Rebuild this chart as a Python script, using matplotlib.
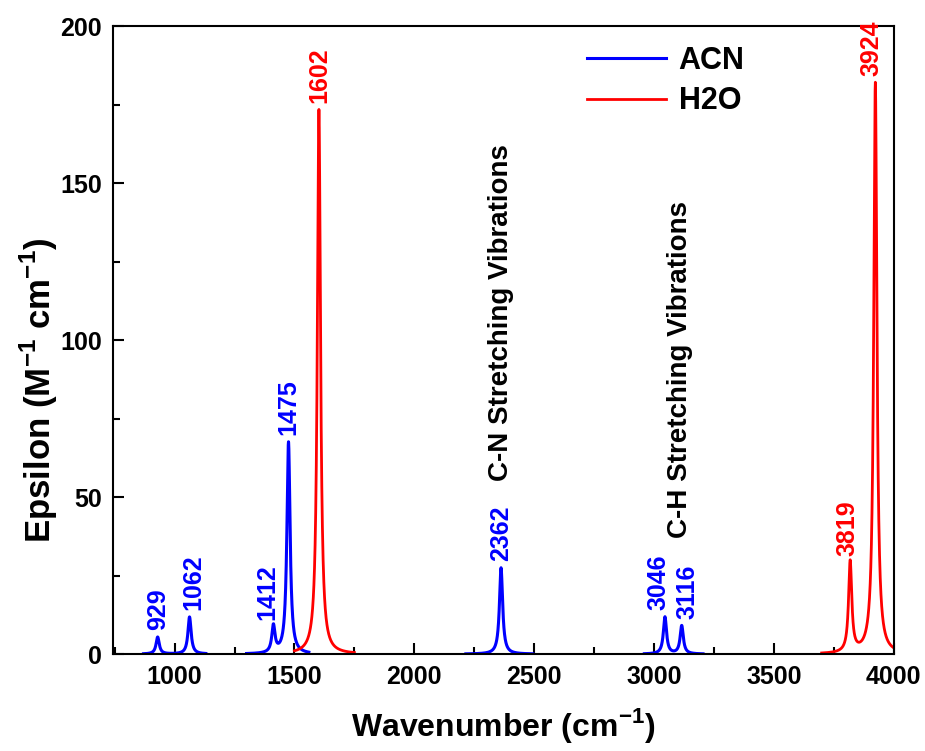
import matplotlib
matplotlib.use('Agg')
import matplotlib.pyplot as plt
import numpy as np
from matplotlib.ticker import MultipleLocator

plt.rcParams['font.family'] = ['Liberation Sans', 'DejaVu Sans']
plt.rcParams['font.weight'] = 'bold'
plt.rcParams['mathtext.fontset'] = 'custom'
plt.rcParams['mathtext.rm'] = 'Liberation Sans:bold'
plt.rcParams['mathtext.bf'] = 'Liberation Sans:bold'

# peak positions (cm-1) and heights (M-1 cm-1)
acn_pos = [929, 1062, 1412, 1475, 2362, 3046, 3116]
acn_eps = [5.4, 11.8, 8.6, 67.5, 27.5, 11.8, 9.0]
h2o_pos = [1602, 3819, 3924]
h2o_eps = [173.5, 29.0, 182.0]

# ranges where each spectrum was drawn
acn_ranges = [(870, 1130), (1300, 1560), (2215, 2495), (2960, 3205)]
h2o_ranges = [(1500, 1750), (3700, 4000)]

# label x shifts in points
acn_dx = [0, 3, -4, 0, 0, -5, 4]
h2o_dx = [0, -2, -3]

hwhm = 8.0


def spectrum(pos, eps, ranges):
    xs, ys = [], []
    for lo, hi in ranges:
        x = np.arange(lo, hi + 0.5, 0.5)
        y = np.zeros_like(x)
        for p, e in zip(pos, eps):
            y += e / (1 + ((x - p) / hwhm) ** 2)
        xs += list(x) + [np.nan]
        ys += list(y) + [np.nan]
    return np.array(xs), np.array(ys)


fig = plt.figure(figsize=(9.25, 7.51), dpi=100)
ax = fig.add_axes([0.122, 0.129, 0.844, 0.836])

xa, ya = spectrum(acn_pos, acn_eps, acn_ranges)
xh, yh = spectrum(h2o_pos, h2o_eps, h2o_ranges)
ax.plot(xa, ya, color='#0000ff', lw=2.2, label='ACN')
ax.plot(xh, yh, color='#ff0000', lw=2.0, label='H2O')

for p, e, dx in zip(acn_pos, acn_eps, acn_dx):
    ax.annotate(str(p), (p, e), xytext=(dx, 5), textcoords='offset points',
                rotation=90, ha='center', va='bottom', color='#0000ff',
                fontsize=18, fontweight='bold')
for p, e, dx in zip(h2o_pos, h2o_eps, h2o_dx):
    ax.annotate(str(p), (p, e), xytext=(dx, 5), textcoords='offset points',
                rotation=90, ha='center', va='bottom', color='#ff0000',
                fontsize=18, fontweight='bold')

ax.text(2362, 55, 'C-N Stretching Vibrations', rotation=90, ha='center',
        va='bottom', fontsize=20, fontweight='bold')
ax.text(3110, 37, 'C-H Stretching Vibrations', rotation=90, ha='center',
        va='bottom', fontsize=20, fontweight='bold')

ax.set_xlim(742, 4000)
ax.set_ylim(0, 200)
ax.xaxis.set_major_locator(MultipleLocator(500))
ax.xaxis.set_minor_locator(MultipleLocator(250))
ax.yaxis.set_major_locator(MultipleLocator(50))
ax.yaxis.set_minor_locator(MultipleLocator(25))
ax.tick_params(which='both', direction='in', width=1.5, labelsize=18)
ax.tick_params(which='major', length=8, pad=8)
ax.tick_params(which='minor', length=5)
for lab in ax.get_xticklabels() + ax.get_yticklabels():
    lab.set_fontweight('bold')
for s in ax.spines.values():
    s.set_linewidth(1.5)

ax.set_xlabel('Wavenumber (cm$^{-1}$)', fontsize=23, fontweight='bold', labelpad=12)
ax.set_ylabel('Epsilon (M$^{-1}$ cm$^{-1}$)', fontsize=25, fontweight='bold')
ax.yaxis.set_label_coords(-0.068, 0.42)

leg = ax.legend(loc='upper left', bbox_to_anchor=(0.572, 1.013), frameon=False,
                prop={'size': 22, 'weight': 'bold'}, handlelength=2.6,
                handletextpad=0.4, labelspacing=0.35)

fig.savefig('out.png', dpi=100)
